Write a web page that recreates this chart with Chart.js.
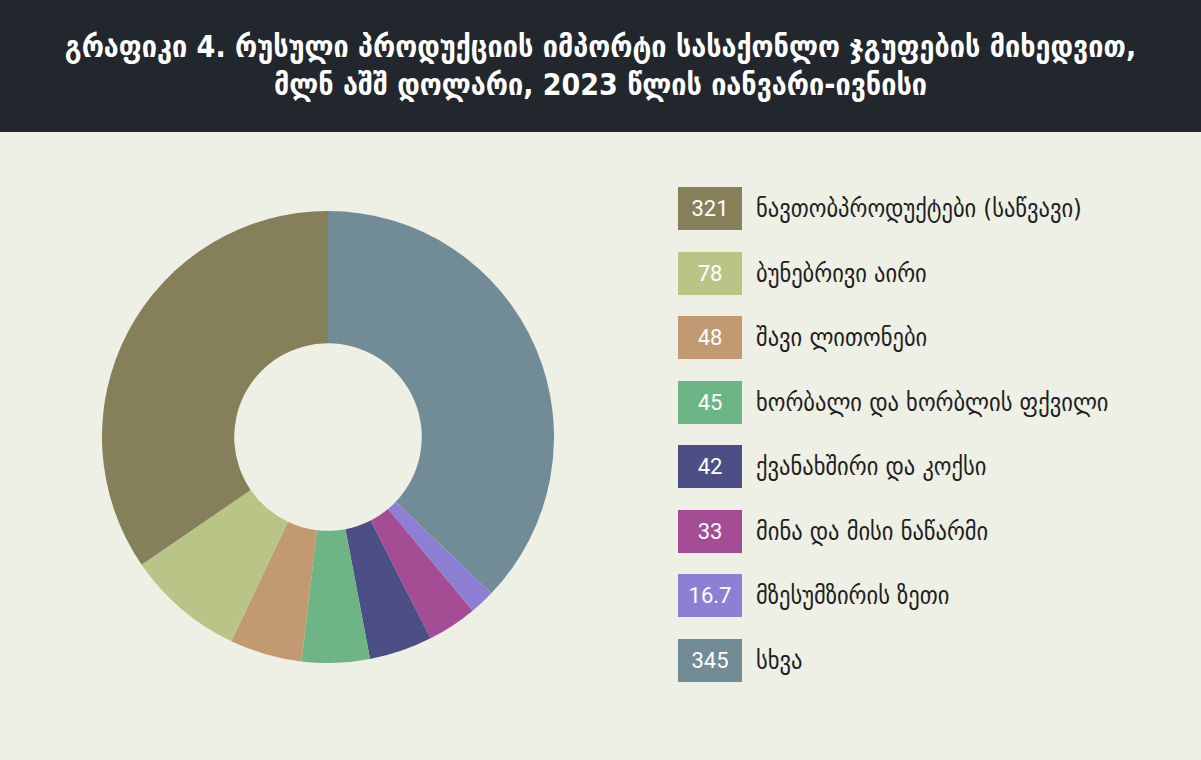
<!doctype html>
<html>
<head>
<meta charset="utf-8">
<title>რუსული პროდუქციის იმპორტი</title>
<script src="https://cdn.jsdelivr.net/npm/chart.js@4"></script>
<style>
body {
	margin: 0;
	width: 1201px;
	height: 760px;
	background: #eeefe5;
	overflow: hidden;
	font-family: "DejaVu Sans Condensed", "DejaVu Sans", sans-serif;
}
#header {
	position: absolute;
	left: 0; top: 0;
	width: 1201px; height: 132px;
	background: #22262d;
	color: #ffffff;
	font-weight: bold;
	font-size: 30px;
	line-height: 38px;
	text-align: center;
	box-sizing: border-box;
	padding-top: 28px;
	white-space: nowrap;
}
#chartBox {
	position: absolute;
	left: 102px; top: 211px;
	width: 452px; height: 452px;
}
#legend {
	position: absolute;
	left: 678px; top: 187px;
}
.item {
	height: 43px;
	margin-bottom: 21.5px;
	display: flex;
	align-items: center;
}
.box {
	width: 64px; height: 43px;
	color: #ffffff;
	font-family: Roboto, sans-serif;
	font-size: 22px;
	display: flex;
	align-items: center;
	justify-content: center;
}
.label {
	margin-left: 14px;
	font-size: 25px;
	color: #1e1e1e;
	white-space: nowrap;
}
</style>
</head>
<body>
	<div id="header">გრაფიკი 4. რუსული პროდუქციის იმპორტი სასაქონლო ჯგუფების მიხედვით,<br>მლნ აშშ დოლარი, 2023 წლის იანვარი-ივნისი</div>
	<div id="chartBox"><canvas id="canvas"></canvas></div>
	<div id="legend"></div>

	<script>
		// legend order (top to bottom)
		var categories = [
			'ნავთობპროდუქტები (საწვავი)',
			'ბუნებრივი აირი',
			'შავი ლითონები',
			'ხორბალი და ხორბლის ფქვილი',
			'ქვანახშირი და კოქსი',
			'მინა და მისი ნაწარმი',
			'მზესუმზირის ზეთი',
			'სხვა'
		];
		var values = [321, 78, 48, 45, 42, 33, 16.7, 345];
		var valueLabels = ['321', '78', '48', '45', '42', '33', '16.7', '345'];
		var colors = ['#857f5a', '#b9c487', '#c19a71', '#6db585', '#4c4f85', '#a44c94', '#8d80d4', '#718b97'];

		// legend
		var legend = document.getElementById('legend');
		for (var i = 0; i < categories.length; i++) {
			var item = document.createElement('div');
			item.className = 'item';
			item.innerHTML = '<div class="box" style="background:' + colors[i] + '">' + valueLabels[i] +
				'</div><div class="label">' + categories[i] + '</div>';
			legend.appendChild(item);
		}

		// the doughnut runs clockwise from the top starting with the last category
		var ctx = document.getElementById('canvas').getContext('2d');
		window.myChart = new Chart(ctx, {
			type: 'doughnut',
			data: {
				labels: categories.slice().reverse(),
				datasets: [{
					data: values.slice().reverse(),
					backgroundColor: colors.slice().reverse(),
					borderWidth: 0
				}]
			},
			options: {
				responsive: true,
				maintainAspectRatio: false,
				animation: false,
				cutout: '41.5%',
				layout: { padding: 0 },
				plugins: {
					legend: { display: false },
					tooltip: { enabled: false }
				}
			}
		});
	</script>
</body>
</html>
